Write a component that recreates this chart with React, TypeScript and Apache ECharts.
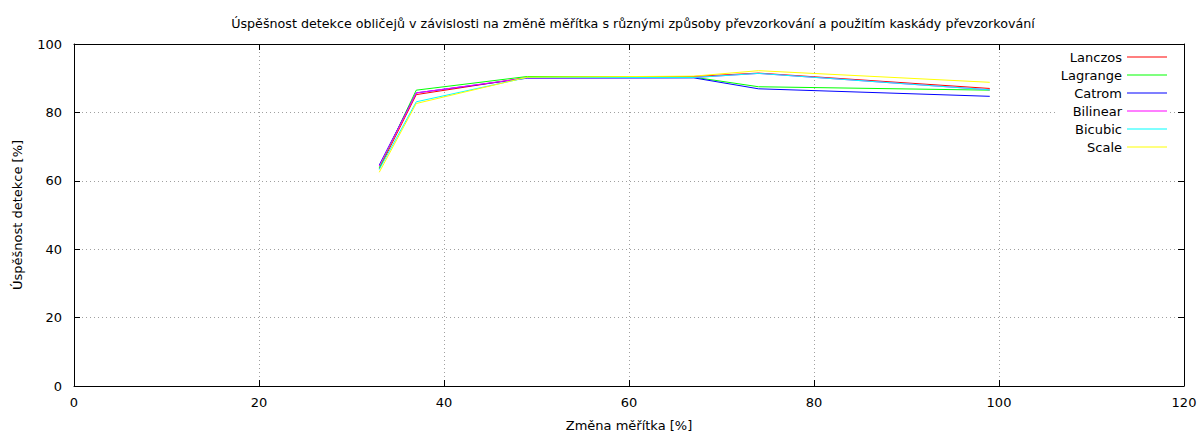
import React, { useEffect, useRef } from "react";
import * as echarts from "echarts";

const title =
  "Úspěšnost detekce obličejů v závislosti na změně měřítka s různými způsoby převzorkování a použitím kaskády převzorkování";
const xName = "Změna měřítka [%]";
const yName = "Úspěšnost detekce [%]";

const scales = [33, 37, 49, 67, 74, 99];
const seriesNames = ["Lanczos", "Lagrange", "Catrom", "Bilinear", "Bicubic", "Scale"];
const seriesColors = ["#ff0000", "#00ff00", "#0000ff", "#ff00ff", "#00ffff", "#ffff00"];

const lanczos = [63.5, 85.2, 90.2, 90.5, 91.5, 87.0];
const lagrange = [63.8, 86.5, 90.5, 90.3, 87.5, 86.5];
const catrom = [64.6, 85.7, 90.0, 90.1, 86.9, 84.7];
const bilinear = [64.3, 85.7, 90.1, 90.2, 91.4, 86.6];
const bicubic = [63.3, 83.1, 90.2, 90.2, 91.4, 86.6];
const scale = [62.5, 82.6, 90.3, 90.6, 92.2, 88.8];

const values = [lanczos, lagrange, catrom, bilinear, bicubic, scale];

const FONT = "DejaVu Sans";

export default function App() {
  const ref = useRef<HTMLDivElement>(null);
  useEffect(() => {
    if (!ref.current) return;
    const chart = echarts.init(ref.current, null, { renderer: "svg" });
    const tickStyle = { show: true, inside: true, length: 6, lineStyle: { color: "#000" } };
    chart.setOption({
      animation: false,
      backgroundColor: "#fff",
      textStyle: { fontFamily: FONT },
      title: {
        text: title,
        left: 628,
        textAlign: "center",
        top: 12,
        textStyle: { fontFamily: FONT, fontSize: 12.7, fontWeight: "normal", color: "#000" },
      },
      legend: {
        orient: "vertical",
        align: "right",
        right: 34,
        top: 48,
        padding: [0, 3, 0, 3],
        backgroundColor: "#fff",
        itemGap: 0,
        itemWidth: 40,
        itemHeight: 1,
        icon: "rect",
        data: seriesNames,
        textStyle: { fontFamily: FONT, fontSize: 13, color: "#000", lineHeight: 18 },
      },
      grid: { left: 74, right: 20, top: 44, bottom: 44 },
      xAxis: [
        {
          type: "value",
          min: 0,
          max: 120,
          interval: 20,
          name: xName,
          nameLocation: "middle",
          nameGap: 33,
          nameTextStyle: { fontFamily: FONT, fontSize: 13, color: "#000" },
          axisLine: { show: true, onZero: false, lineStyle: { color: "#000" } },
          axisTick: tickStyle,
          axisLabel: { margin: 10, fontFamily: FONT, fontSize: 13, color: "#000" },
          splitLine: { show: true, lineStyle: { type: [1, 3], color: "#a0a0a0" } },
        },
        {
          type: "value",
          position: "top",
          min: 0,
          max: 120,
          interval: 20,
          axisLine: { show: true, onZero: false, lineStyle: { color: "#000" } },
          axisTick: tickStyle,
          axisLabel: { show: false },
          splitLine: { show: false },
        },
      ],
      yAxis: [
        {
          type: "value",
          min: 0,
          max: 100,
          interval: 20,
          name: yName,
          nameLocation: "middle",
          nameGap: 50,
          nameTextStyle: { fontFamily: FONT, fontSize: 13, color: "#000" },
          axisLine: { show: true, onZero: false, lineStyle: { color: "#000" } },
          axisTick: tickStyle,
          axisLabel: { margin: 12, fontFamily: FONT, fontSize: 13, color: "#000" },
          splitLine: { show: true, lineStyle: { type: [1, 3], color: "#a0a0a0" } },
        },
        {
          type: "value",
          position: "right",
          min: 0,
          max: 100,
          interval: 20,
          axisLine: { show: true, onZero: false, lineStyle: { color: "#000" } },
          axisTick: tickStyle,
          axisLabel: { show: false },
          splitLine: { show: false },
        },
      ],
      series: seriesNames.map((name, i) => ({
        name,
        type: "line",
        showSymbol: false,
        symbol: "none",
        color: seriesColors[i],
        lineStyle: { width: 1, color: seriesColors[i] },
        data: scales.map((x, j) => [x, values[i][j]]),
      })),
    });
    return () => chart.dispose();
  }, []);
  return (
    <div
      ref={ref}
      style={{ position: "absolute", left: 0, top: 0, width: 1204, height: 437 }}
    />
  );
}
